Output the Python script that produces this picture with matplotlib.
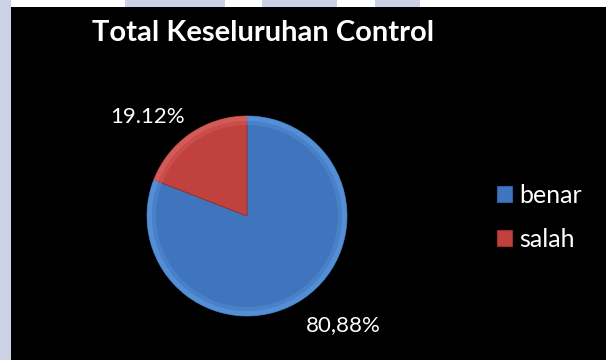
import matplotlib
matplotlib.use("Agg")
import matplotlib.pyplot as plt
from matplotlib.patches import Rectangle, Patch

# data
categories = ["benar", "salah"]
values = [80.88, 19.12]
value_labels = ["80,88%", "19.12%"]
title = "Total Keseluruhan Control"

base_colors = ["#3f75bd", "#c0413d"]
edge_colors = ["#5a95dc", "#d9625e"]
dark_colors = ["#2f5f9e", "#9a2f2c"]

plt.rcParams["font.family"] = ["Lato", "DejaVu Sans"]

W, H = 606, 360
fig = plt.figure(figsize=(W / 100, H / 100), dpi=100)
fig.patch.set_facecolor("white")

# page background: lavender strips around the black chart area
lav = "#cdd1e6"
fig.patches.append(Rectangle((0, 0), 11 / W, 1, transform=fig.transFigure,
                             facecolor=lav, edgecolor="none", zorder=-5))
for x0, x1 in [(125, 225), (262, 337), (375, 420)]:
    fig.patches.append(Rectangle((x0 / W, 1 - 7 / H), (x1 - x0) / W, 7 / H,
                                 transform=fig.transFigure, facecolor=lav,
                                 edgecolor="none", zorder=-5))
fig.patches.append(Rectangle((11 / W, 0), 1 - 11 / W, 1 - 7 / H,
                             transform=fig.transFigure, facecolor="black",
                             edgecolor="none", zorder=-5))

# pie axes: centre (247, 216) px, radius 100 px
cx, cy, r = 247, 216, 100
ax = fig.add_axes([(cx - r) / W, (H - cy - r) / H, 2 * r / W, 2 * r / H])
ax.set_facecolor("none")

wedges, _ = ax.pie(values, colors=base_colors, startangle=90, counterclock=False,
                   radius=1.0, wedgeprops=dict(linewidth=0.6))
for w, dc in zip(wedges, dark_colors):
    w.set_edgecolor(dc)
# bevel: lighter rim fading inwards
ax.pie(values, colors=edge_colors, startangle=90, counterclock=False, radius=1.0,
       wedgeprops=dict(width=0.05, edgecolor="none", alpha=0.8))
ax.pie(values, colors=edge_colors, startangle=90, counterclock=False, radius=0.95,
       wedgeprops=dict(width=0.04, edgecolor="none", alpha=0.4))
ax.set_xlim(-1, 1)
ax.set_ylim(-1, 1)
ax.set_aspect("auto")
ax.axis("off")

# data labels
label_pos = [(0.96, -1.09), (-0.99, 0.99)]
for lab, (lx, ly) in zip(value_labels, label_pos):
    ax.text(lx, ly, lab, color="white", fontsize=16, ha="center", va="center",
            clip_on=False)

fig.text(263 / W, 1 - 33 / H, title, color="white", fontsize=21,
         fontweight="bold", ha="center", va="center")

handles = [Patch(facecolor=c, edgecolor=d, linewidth=0.8)
           for c, d in zip(base_colors, dark_colors)]
fig.legend(handles, categories, loc="center left",
           bbox_to_anchor=(497 / W, 1 - 217.5 / H), frameon=False,
           fontsize=18, labelcolor="white", handlelength=0.6, handleheight=0.6,
           handletextpad=0.3, labelspacing=0.85, borderpad=0, borderaxespad=0)

fig.savefig("out.png", dpi=100, facecolor=fig.get_facecolor())
